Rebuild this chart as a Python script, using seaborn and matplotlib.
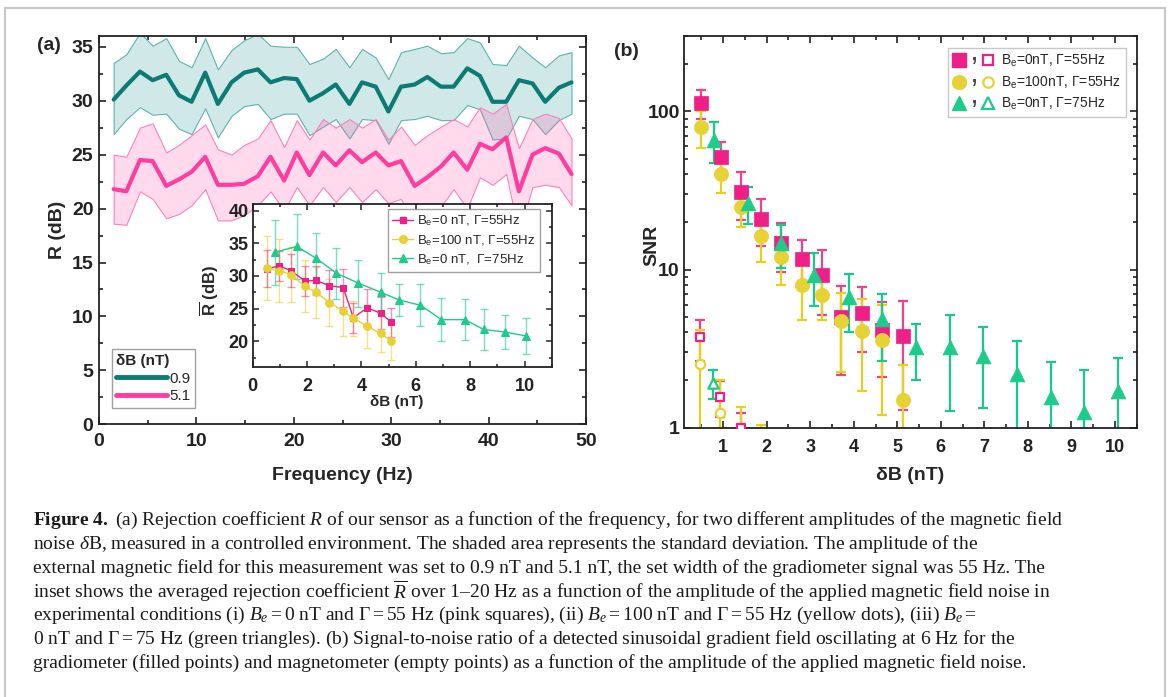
import matplotlib
matplotlib.use("Agg")
import matplotlib.pyplot as plt
from matplotlib.lines import Line2D
from matplotlib.patches import Rectangle
from matplotlib.legend_handler import HandlerTuple
from matplotlib.ticker import MultipleLocator, FixedLocator, LogLocator, FuncFormatter, NullFormatter
import seaborn as sns

# panel (a): rejection coefficient vs frequency
freq = [1.5, 2.8, 4.2, 5.5, 6.9, 8.2, 9.5, 10.9, 12.2, 13.6, 14.9, 16.3, 17.6, 19.0,
        20.3, 21.6, 23.0, 24.3, 25.7, 27.0, 28.4, 29.7, 31.0, 32.4, 33.7, 35.1, 36.4,
        37.8, 39.1, 40.4, 41.8, 43.1, 44.5, 45.8, 47.2, 48.5]
r_09 = [30.1, 31.4, 32.7, 31.9, 32.4, 30.5, 29.9, 32.6, 29.7, 31.7, 32.6, 32.9, 31.7, 32.1,
        32.0, 30.0, 30.7, 31.5, 29.7, 31.7, 31.3, 29.0, 31.3, 31.5, 32.2, 31.3, 31.3, 33.0,
        32.3, 29.9, 29.9, 31.9, 31.6, 29.9, 31.2, 31.7]
r_09_hi = [33.5, 34.3, 36.3, 35.1, 35.8, 33.7, 33.1, 35.8, 32.9, 34.7, 35.6, 36.2, 35.1, 35.0,
           35.0, 33.4, 33.9, 34.8, 33.1, 34.8, 34.0, 32.0, 34.5, 34.8, 35.1, 34.4, 34.5, 35.8,
           35.4, 33.4, 33.3, 35.1, 34.0, 33.1, 34.2, 34.5]
r_09_lo = [26.9, 28.3, 29.4, 28.7, 28.8, 27.4, 26.9, 29.3, 26.6, 28.6, 29.5, 29.7, 28.3, 28.8,
           28.8, 26.8, 27.6, 28.3, 26.5, 28.3, 28.2, 26.0, 28.2, 28.3, 28.6, 28.2, 28.2, 29.6,
           29.2, 26.4, 26.5, 28.6, 28.3, 26.9, 28.2, 28.8]
r_51 = [21.8, 21.6, 24.5, 24.4, 22.1, 22.7, 23.4, 24.8, 22.2, 22.2, 22.3, 23.0, 24.8, 22.6,
        25.2, 23.1, 25.2, 24.0, 25.4, 24.3, 25.2, 24.0, 24.4, 22.1, 22.9, 23.9, 25.2, 23.6,
        26.0, 25.5, 26.6, 21.6, 25.0, 25.6, 25.1, 23.2]
r_51_hi = [25.0, 24.8, 27.5, 27.9, 25.2, 25.9, 26.8, 27.8, 25.5, 25.0, 25.9, 26.5, 28.2, 25.7,
           28.2, 26.4, 28.3, 27.5, 28.3, 27.5, 28.3, 26.4, 27.6, 25.9, 26.8, 27.6, 28.3, 27.6,
           29.4, 28.8, 29.7, 25.6, 28.3, 28.8, 28.4, 26.5]
r_51_lo = [18.6, 18.5, 21.6, 20.9, 19.1, 19.5, 20.3, 21.8, 18.9, 18.9, 19.4, 20.3, 21.6, 19.8,
           22.0, 20.3, 22.0, 20.6, 22.0, 20.6, 21.8, 20.5, 20.9, 18.5, 19.2, 20.2, 21.8, 20.0,
           22.9, 22.2, 23.2, 17.7, 22.0, 22.2, 22.0, 20.3]

# inset: averaged R over 1-20 Hz vs noise amplitude
db_55 = [0.51, 0.98, 1.41, 1.92, 2.33, 2.82, 3.33, 3.70, 4.21, 4.70, 5.10]
rbar_0 = [31.1, 31.5, 30.8, 29.2, 29.3, 28.5, 28.2, 23.6, 25.1, 24.3, 22.9]
rbar_0_err = [2.8, 2.3, 2.5, 2.3, 2.2, 2.4, 2.9, 2.3, 2.9, 2.5, 2.2]
rbar_100 = [31.2, 30.8, 30.2, 28.4, 27.5, 25.9, 24.6, 23.5, 22.3, 21.2, 20.0]
rbar_100_err = [4.9, 4.8, 4.2, 4.0, 3.9, 3.6, 3.8, 2.7, 3.3, 2.9, 2.9]
db_75 = [0.80, 1.62, 2.33, 3.08, 3.88, 4.70, 5.39, 6.17, 6.94, 7.80, 8.49, 9.27, 10.06]
rbar_75 = [33.6, 34.5, 32.7, 30.4, 28.9, 27.5, 26.3, 25.5, 23.3, 23.3, 21.8, 21.4, 20.8]
rbar_75_err = [5.0, 5.0, 3.8, 3.9, 3.6, 3.0, 2.5, 3.2, 3.3, 3.1, 3.1, 2.6, 2.8]

# panel (b): SNR, gradiometer (filled) and magnetometer (empty)
x_55 = [0.48, 0.95, 1.42, 1.88, 2.34, 2.82, 3.28, 3.71, 4.18, 4.66, 5.12]
snr_0 = [113, 51.5, 30.9, 20.9, 14.7, 11.6, 9.25, 5.0, 5.35, 4.15, 3.8]
snr_0_err = [24, 13, 10.4, 6.9, 5.0, 3.8, 4.1, 2.85, 2.35, 2.05, 2.5]
snr_100 = [79.6, 40.3, 25.0, 16.4, 12.0, 8.0, 6.9, 4.7, 4.1, 3.6, 1.5]
snr_100_err = [20.6, 9.8, 6.5, 5.3, 4.0, 3.2, 2.1, 2.45, 2.4, 2.4, 1.0]
x_75 = [0.79, 1.57, 2.34, 3.09, 3.89, 4.66, 5.43, 6.21, 6.98, 7.74, 8.53, 9.29, 10.08]
snr_75 = [66.2, 26.3, 14.7, 9.25, 6.7, 4.85, 3.26, 3.23, 2.84, 2.19, 1.56, 1.26, 1.71]
snr_75_err = [18.9, 6.8, 4.5, 3.4, 2.65, 2.2, 1.27, 1.95, 1.5, 1.36, 1.06, 1.06, 1.06]
mag_x_0 = [0.46, 0.92, 1.40]
mag_0 = [3.73, 1.57, 1.0]
mag_0_err = [1.1, 0.4, 0.23]
mag_x_100 = [0.46, 0.92, 1.40, 1.88]
mag_100 = [2.53, 1.24, 0.8, 0.6]
mag_100_err = [1.6, 0.76, 0.55, 0.44]
mag_x_75 = [0.77]
mag_75 = [1.91]
mag_75_err = [0.4]

TEAL = "#0b7b74"
PINK_LINE = "#ff3d9e"
PINK = "#ee1f86"
YELLOW = "#e6d235"
GREEN = "#1dcb8b"

sns.set_theme(style="ticks")
plt.rcParams["font.family"] = ["Liberation Sans", "DejaVu Sans"]
plt.rcParams.update({
    "mathtext.fontset": "custom",
    "mathtext.rm": "Liberation Serif",
    "mathtext.it": "Liberation Serif:italic",
    "mathtext.bf": "Liberation Serif:bold",
    "mathtext.sf": "Liberation Sans:bold",
    "mathtext.tt": "Liberation Sans",
    "xtick.direction": "in", "ytick.direction": "in",
    "xtick.top": True, "ytick.right": True,
    "axes.linewidth": 1.3, "axes.edgecolor": "#222222",
    "xtick.color": "#222222", "ytick.color": "#222222",
})


def bold_ticks(ax):
    for lab in ax.get_xticklabels() + ax.get_yticklabels():
        lab.set_fontweight("bold")


fig = plt.figure(figsize=(11.68, 6.97), dpi=100)
fig.patches.append(Rectangle((0.004, -0.05), 0.9935, 1.0385, transform=fig.transFigure,
                             fill=False, ec="#c8c8c8", lw=1.5))

# ---------------- panel (a) ----------------
axa = fig.add_axes([0.0848, 0.3912, 0.4170, 0.5572])
axa.fill_between(freq, r_09_lo, r_09_hi, facecolor=(0.1, 0.55, 0.55, 0.2),
                 edgecolor="#5fb3ad", lw=0.8, zorder=1)
axa.fill_between(freq, r_51_lo, r_51_hi, facecolor=(1.0, 0.35, 0.68, 0.22),
                 edgecolor="#ff7fbf", lw=0.8, zorder=1)
sns.lineplot(x=freq, y=r_09, ax=axa, color=TEAL, lw=3, zorder=3)
sns.lineplot(x=freq, y=r_51, ax=axa, color=PINK_LINE, lw=3, zorder=3)
axa.set_xlim(0, 50)
axa.set_ylim(0, 36)
axa.xaxis.set_major_locator(MultipleLocator(10))
axa.xaxis.set_minor_locator(MultipleLocator(5))
axa.yaxis.set_major_locator(MultipleLocator(5))
axa.yaxis.set_minor_locator(MultipleLocator(2.5))
axa.tick_params(which="both", labelsize=14, width=1.2)
axa.tick_params(which="major", length=5)
axa.tick_params(which="minor", length=3)
axa.tick_params(axis="x", pad=6)
axa.tick_params(axis="y", pad=4)
bold_ticks(axa)
axa.set_xlabel("Frequency (Hz)", fontsize=14, fontweight="bold")
axa.set_ylabel("R (dB)", fontsize=14, fontweight="bold")
axa.xaxis.set_label_coords(0.5, -0.11)
axa.yaxis.set_label_coords(-0.068, 0.5)
leg_a = axa.legend([Line2D([], [], color=TEAL, lw=3.5), Line2D([], [], color=PINK_LINE, lw=3.5)],
                   ["0.9", "5.1"], title="δB (nT)", loc="lower left",
                   bbox_to_anchor=(0.026, 0.042), fancybox=False, edgecolor="#888888",
                   fontsize=11, title_fontsize=11, handlelength=3.3, handletextpad=0.15,
                   borderpad=0.3, labelspacing=0.25, borderaxespad=0, alignment="left")
leg_a.get_title().set_fontweight("bold")
leg_a.get_frame().set_linewidth(1.0)

# ---------------- inset ----------------
axi = fig.add_axes([0.2164, 0.4730, 0.2560, 0.2343])
axi.set_facecolor("white")
axi.errorbar(db_55, rbar_100, yerr=rbar_100_err, fmt="none", ecolor=YELLOW, alpha=0.6,
             elinewidth=1, capsize=3, capthick=1, zorder=1)
axi.errorbar(db_55, rbar_0, yerr=rbar_0_err, fmt="none", ecolor=PINK, alpha=0.5,
             elinewidth=1, capsize=3, capthick=1, zorder=1)
axi.errorbar(db_75, rbar_75, yerr=rbar_75_err, fmt="none", ecolor=GREEN, alpha=0.6,
             elinewidth=1, capsize=3, capthick=1, zorder=1)
sns.lineplot(x=db_55, y=rbar_0, ax=axi, color=PINK, lw=1, marker="s", ms=5,
             mec=PINK, zorder=3)
sns.lineplot(x=db_55, y=rbar_100, ax=axi, color=YELLOW, lw=1, marker="o", ms=5.5,
             mec=YELLOW, zorder=3)
sns.lineplot(x=db_75, y=rbar_75, ax=axi, color=GREEN, lw=1, marker="^", ms=6,
             mec=GREEN, zorder=3)
axi.set_xlim(0, 11)
axi.set_ylim(16, 41)
axi.xaxis.set_major_locator(MultipleLocator(2))
axi.xaxis.set_minor_locator(MultipleLocator(1))
axi.yaxis.set_major_locator(MultipleLocator(5))
axi.yaxis.set_minor_locator(MultipleLocator(2.5))
axi.tick_params(which="both", labelsize=13, width=1.1)
axi.tick_params(which="major", length=4)
axi.tick_params(which="minor", length=2.5)
axi.tick_params(axis="x", pad=8)
axi.tick_params(axis="y", pad=3)
bold_ticks(axi)
axi.set_xlabel("δB (nT)", fontsize=11, fontweight="bold")
axi.set_ylabel(r"$\overline{\mathsf{R}}$ (dB)", fontsize=12, fontweight="bold")
axi.xaxis.set_label_coords(0.48, -0.17)
axi.yaxis.set_label_coords(-0.105, 0.47)
leg_i = axi.legend(
    [Line2D([], [], color=PINK, lw=1, marker="s", ms=5),
     Line2D([], [], color=YELLOW, lw=1, marker="o", ms=5.5),
     Line2D([], [], color=GREEN, lw=1, marker="^", ms=6)],
    [r"B$_\mathtt{e}$=0 nT, Γ=55Hz", r"B$_\mathtt{e}$=100 nT, Γ=55Hz",
     r"B$_\mathtt{e}$=0 nT,  Γ=75Hz"],
    loc="upper right", bbox_to_anchor=(0.961, 0.968), fancybox=False,
    edgecolor="#888888", fontsize=9.5, handlelength=1.6, handletextpad=0.3,
    borderpad=0.35, labelspacing=0.35, borderaxespad=0)
leg_i.get_frame().set_linewidth(1.0)

# ---------------- panel (b) ----------------
axb = fig.add_axes([0.5856, 0.3864, 0.3876, 0.5620])
axb.set_yscale("log")
ekw = dict(fmt="none", elinewidth=1.6, capsize=3.5, capthick=1.6, zorder=1)
axb.errorbar(x_55, snr_0, yerr=snr_0_err, ecolor="#f0418f", **ekw)
axb.errorbar(x_55, snr_100, yerr=snr_100_err, ecolor="#e8cf1a", **ekw)
axb.errorbar(x_75, snr_75, yerr=snr_75_err, ecolor="#17c98a", **ekw)
axb.errorbar(mag_x_0, mag_0, yerr=mag_0_err, ecolor="#f0418f", **ekw)
axb.errorbar(mag_x_100, mag_100, yerr=mag_100_err, ecolor="#e8cf1a", **ekw)
axb.errorbar(mag_x_75, mag_75, yerr=mag_75_err, ecolor="#17c98a", **ekw)
sns.scatterplot(x=x_55, y=snr_0, ax=axb, marker="s", s=95, color=PINK, edgecolor=PINK,
                linewidth=0.5, zorder=3)
sns.scatterplot(x=x_55, y=snr_100, ax=axb, marker="o", s=105, color=YELLOW, edgecolor=YELLOW,
                linewidth=0.5, zorder=3)
sns.scatterplot(x=x_75, y=snr_75, ax=axb, marker="^", s=115, color=GREEN, edgecolor=GREEN,
                linewidth=0.5, zorder=3)
sns.scatterplot(x=mag_x_0, y=mag_0, ax=axb, marker="s", s=40, color="white", edgecolor=PINK,
                linewidth=1.6, zorder=3)
sns.scatterplot(x=mag_x_100, y=mag_100, ax=axb, marker="o", s=45, color="white",
                edgecolor=YELLOW, linewidth=1.6, zorder=3)
sns.scatterplot(x=mag_x_75, y=mag_75, ax=axb, marker="^", s=55, color="white",
                edgecolor=GREEN, linewidth=1.6, zorder=3)
axb.set_xlim(0.1, 10.5)
axb.set_ylim(1, 300)
axb.xaxis.set_major_locator(FixedLocator(range(1, 11)))
axb.xaxis.set_minor_locator(MultipleLocator(0.5))
axb.yaxis.set_major_locator(LogLocator(base=10))
axb.yaxis.set_minor_locator(LogLocator(base=10, subs=range(2, 10)))
axb.yaxis.set_major_formatter(FuncFormatter(lambda v, p: f"{v:g}"))
axb.yaxis.set_minor_formatter(NullFormatter())
axb.tick_params(which="both", width=1.2)
axb.tick_params(which="major", length=5)
axb.tick_params(which="minor", length=3)
axb.tick_params(axis="x", labelsize=13, pad=8)
axb.tick_params(axis="y", labelsize=14, pad=3)
bold_ticks(axb)
axb.set_xlabel("δB (nT)", fontsize=14, fontweight="bold")
axb.set_ylabel("SNR", fontsize=14, fontweight="bold")
axb.xaxis.set_label_coords(0.5, -0.1)
axb.yaxis.set_label_coords(-0.053, 0.466)

comma = Line2D([], [], ls="none", marker=r"$\mathtt{,}$", ms=5, mew=0, color="#444444")
hb = [
    (Line2D([], [], ls="none", marker="s", ms=10, color=PINK), comma,
     Line2D([], [], ls="none", marker="s", ms=7, mfc="white", mec=PINK, mew=1.6)),
    (Line2D([], [], ls="none", marker="o", ms=10, color=YELLOW), comma,
     Line2D([], [], ls="none", marker="o", ms=7.5, mfc="white", mec=YELLOW, mew=1.6)),
    (Line2D([], [], ls="none", marker="^", ms=10, color=GREEN), comma,
     Line2D([], [], ls="none", marker="^", ms=8, mfc="white", mec=GREEN, mew=1.6)),
]
leg_b = axb.legend(hb, [r"B$_\mathtt{e}$=0nT, Γ=55Hz", r"B$_\mathtt{e}$=100nT, Γ=55Hz",
                        r"B$_\mathtt{e}$=0nT, Γ=75Hz"],
                   handler_map={tuple: HandlerTuple(ndivide=None, pad=0.2)},
                   loc="upper right", bbox_to_anchor=(0.976, 0.969), fancybox=False,
                   edgecolor="#bbbbbb", fontsize=10, handlelength=3.0, handletextpad=0.5,
                   borderpad=0.35, labelspacing=0.4, borderaxespad=0)
leg_b.get_frame().set_linewidth(1.0)

fig.text(0.032, 1 - 45 / 697, "(a)", fontsize=14, fontweight="bold", ha="left", va="center")
fig.text(0.526, 1 - 51 / 697, "(b)", fontsize=14, fontweight="bold", ha="left", va="center")

caption = [
    r"$\mathbf{Figure\ 4.}$ (a) Rejection coefficient $R$ of our sensor as a function of the frequency, for two different amplitudes of the magnetic field",
    r"noise $\delta$B, measured in a controlled environment. The shaded area represents the standard deviation. The amplitude of the",
    r"external magnetic field for this measurement was set to 0.9 nT and 5.1 nT, the set width of the gradiometer signal was 55 Hz. The",
    r"inset shows the averaged rejection coefficient $\overline{R}$ over 1–20 Hz as a function of the amplitude of the applied magnetic field noise in",
    r"experimental conditions (i) $B_e = 0$ nT and $\Gamma = 55$ Hz (pink squares), (ii) $B_e = 100$ nT and $\Gamma = 55$ Hz (yellow dots), (iii) $B_e =$",
    r"0 nT and $\Gamma = 75$ Hz (green triangles). (b) Signal-to-noise ratio of a detected sinusoidal gradient field oscillating at 6 Hz for the",
    r"gradiometer (filled points) and magnetometer (empty points) as a function of the amplitude of the applied magnetic field noise.",
]
for k, line in enumerate(caption):
    fig.text(33 / 1168, 1 - (520 + 23.8 * k) / 697, line, fontsize=14,
             family="Liberation Serif", color="#1a1a1a", ha="left", va="center")

fig.savefig("out.png", dpi=100)
